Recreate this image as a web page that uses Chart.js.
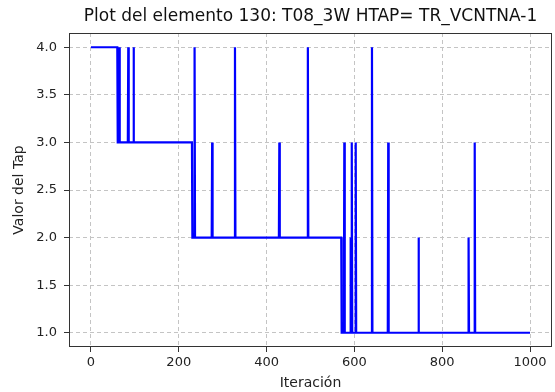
<!DOCTYPE html>
<html>
<head>
<meta charset="utf-8">
<script src="https://cdn.jsdelivr.net/npm/chart.js@4"></script>
<style>
  body { margin: 0; background: #fff; }
  canvas { display: block; }
</style>
</head>
<body>
<canvas id="grafico" width="555" height="392"></canvas>
<script>
// Puntos de cambio del tap (iteración, valor)
const iteraciones = [0, 60, 61, 63, 64, 65, 66, 84, 85, 86, 96, 97, 98, 230, 231,
    235, 236, 237, 275, 276, 277, 327, 328, 329, 428, 429, 430, 493, 494, 495,
    570, 571, 576, 577, 578, 590, 591, 592, 593, 594, 595, 602, 603, 604,
    639, 640, 641, 676, 677, 678, 745, 746, 747, 859, 860, 861, 873, 874, 875, 1000];
const valores = [4, 4, 3, 3, 4, 4, 3, 3, 4, 3, 3, 4, 3, 3, 2,
    2, 4, 2, 2, 3, 2, 2, 4, 2, 2, 3, 2, 2, 4, 2,
    2, 1, 1, 3, 1, 1, 2, 1, 1, 3, 1, 1, 3, 1,
    1, 4, 1, 1, 3, 1, 1, 2, 1, 1, 2, 1, 1, 3, 1, 1];
const ticksX = [0, 200, 400, 600, 800, 1000];
const ticksY = [1.0, 1.5, 2.0, 2.5, 3.0, 3.5, 4.0];

const titulo = "Plot del elemento 130: T08_3W HTAP= TR_VCNTNA-1";
const fuente = "'DejaVu Sans', sans-serif";

const puntos = iteraciones.map((x, i) => ({ x: x, y: valores[i] }));

// Título centrado sobre el área de datos y caja completa de ejes
const marcoYTitulo = {
    id: "marcoYTitulo",
    afterDraw(chart) {
        const ctx = chart.ctx;
        const a = chart.chartArea;
        ctx.save();
        ctx.strokeStyle = "#333";
        ctx.lineWidth = 1;
        ctx.strokeRect(a.left + 0.5, a.top + 0.5, a.right - a.left - 1, a.bottom - a.top - 1);
        ctx.fillStyle = "#111";
        ctx.font = "17px " + fuente;
        ctx.textAlign = "center";
        ctx.textBaseline = "middle";
        ctx.fillText(titulo, (a.left + a.right) / 2, 17);
        ctx.restore();
    }
};

new Chart(document.getElementById("grafico").getContext("2d"), {
    type: "line",
    data: {
        datasets: [{
            data: puntos,
            borderColor: "#0000ff",
            borderWidth: 2.2,
            pointRadius: 0,
            tension: 0,
            fill: false
        }]
    },
    options: {
        responsive: false,
        devicePixelRatio: 1,
        animation: false,
        layout: { padding: { top: 33, right: 3, left: 0, bottom: 0 } },
        plugins: {
            legend: { display: false },
            tooltip: { enabled: false }
        },
        scales: {
            x: {
                type: "linear",
                min: -50,
                max: 1050,
                afterBuildTicks: s => { s.ticks = ticksX.map(v => ({ value: v })); },
                afterFit: s => { s.height = 45; },
                ticks: {
                    color: "#222",
                    font: { family: fuente, size: 13 },
                    padding: 3,
                    maxRotation: 0,
                    callback: v => String(v)
                },
                grid: { color: "#c4c4c4", tickColor: "#333", tickLength: 5, lineWidth: 1 },
                border: { display: false, dash: [4, 3] },
                title: {
                    display: true,
                    text: "Iteración",
                    color: "#222",
                    font: { family: fuente, size: 14 },
                    padding: { top: 0, bottom: 0 }
                }
            },
            y: {
                min: 0.85,
                max: 4.15,
                afterBuildTicks: s => { s.ticks = ticksY.map(v => ({ value: v })); },
                afterFit: s => { s.width = 69; },
                ticks: {
                    color: "#222",
                    font: { family: fuente, size: 13 },
                    padding: 7,
                    callback: v => Number(v).toFixed(1)
                },
                grid: { color: "#c4c4c4", tickColor: "#333", tickLength: 5, lineWidth: 1 },
                border: { display: false, dash: [4, 3] },
                title: {
                    display: true,
                    text: "Valor del Tap",
                    color: "#222",
                    font: { family: fuente, size: 14 },
                    padding: { top: 11, bottom: 0 }
                }
            }
        }
    },
    plugins: [marcoYTitulo]
});
</script>
</body>
</html>
